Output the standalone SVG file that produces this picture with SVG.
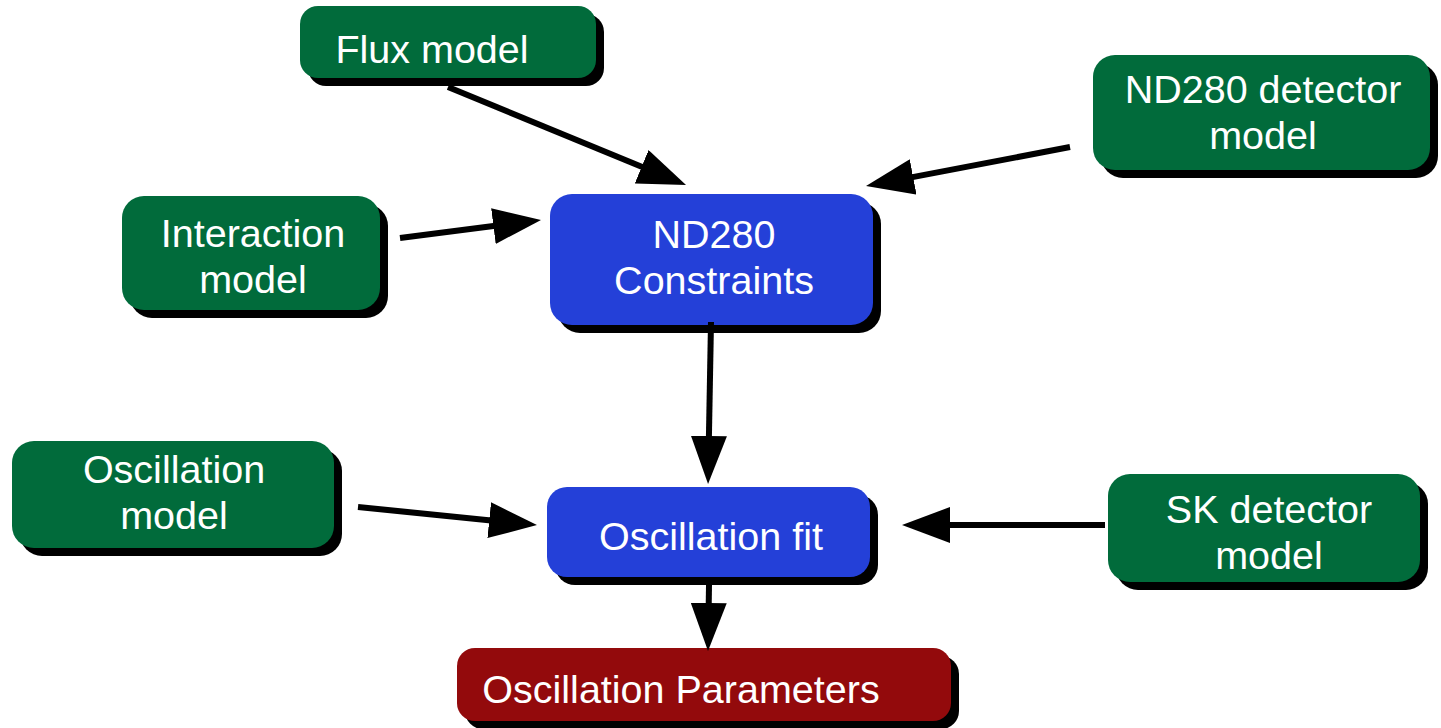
<svg xmlns="http://www.w3.org/2000/svg" width="1441" height="728" viewBox="0 0 1441 728">
<defs>
<marker id="ah" markerUnits="userSpaceOnUse" markerWidth="48" markerHeight="36" refX="2" refY="18" orient="auto" viewBox="0 0 48 36">
<path d="M0,0 L48,18 L0,36 z" fill="#000"/>
</marker>
</defs>
<style>
.sh{fill:#000}
.g{fill:#016b3b}
.b{fill:#2440d8}
.r{fill:#930a0c}
text{font-family:"Liberation Sans",Arial,sans-serif;font-size:39.5px;fill:#fff;text-anchor:middle}
.c line{stroke:#000;stroke-width:6;marker-end:url(#ah)}
</style>
<rect width="1441" height="728" fill="#fff"/>
<g id="flux">
<rect class="sh" x="308" y="14" width="296" height="72" rx="18"/>
<rect class="g" x="300" y="6" width="296" height="72" rx="18"/>
<text x="432" y="63">Flux model</text>
</g>
<g id="nd280det">
<rect class="sh" x="1101" y="63" width="337" height="115" rx="22"/>
<rect class="g" x="1093" y="55" width="337" height="115" rx="22"/>
<text x="1263" y="103">ND280 detector</text>
<text x="1263" y="149">model</text>
</g>
<g id="interaction">
<rect class="sh" x="130" y="204" width="258" height="114" rx="22"/>
<rect class="g" x="122" y="196" width="258" height="114" rx="22"/>
<text x="253" y="247">Interaction</text>
<text x="253" y="293">model</text>
</g>
<g id="constraints">
<rect class="sh" x="558" y="202" width="323" height="131" rx="22"/>
<rect class="b" x="550" y="194" width="323" height="131" rx="22"/>
<text x="714" y="248">ND280</text>
<text x="714" y="294">Constraints</text>
</g>
<g id="oscmodel">
<rect class="sh" x="20" y="449" width="322" height="107" rx="22"/>
<rect class="g" x="12" y="441" width="322" height="107" rx="22"/>
<text x="174" y="483">Oscillation</text>
<text x="174" y="529">model</text>
</g>
<g id="oscfit">
<rect class="sh" x="555" y="495" width="323" height="90" rx="20"/>
<rect class="b" x="547" y="487" width="323" height="90" rx="20"/>
<text x="711" y="550">Oscillation fit</text>
</g>
<g id="skdet">
<rect class="sh" x="1116" y="482" width="312" height="108" rx="22"/>
<rect class="g" x="1108" y="474" width="312" height="108" rx="22"/>
<text x="1269" y="523">SK detector</text>
<text x="1269" y="569">model</text>
</g>
<g id="params">
<rect class="sh" x="465" y="656" width="494" height="73" rx="18"/>
<rect class="r" x="457" y="648" width="494" height="73" rx="18"/>
<text x="681" y="703">Oscillation Parameters</text>
</g>
<g id="connectors" class="c">
<line x1="448" y1="87" x2="643.5" y2="167.5"/>
<line x1="1070" y1="147" x2="911.2" y2="177.4"/>
<line x1="400" y1="238" x2="495.4" y2="225.8"/>
<line x1="711" y1="322" x2="708.9" y2="438"/>
<line x1="358" y1="507" x2="491.2" y2="520.4"/>
<line x1="1105" y1="525" x2="948" y2="525"/>
<line x1="709" y1="585" x2="708.7" y2="605"/>
</g>
</svg>
